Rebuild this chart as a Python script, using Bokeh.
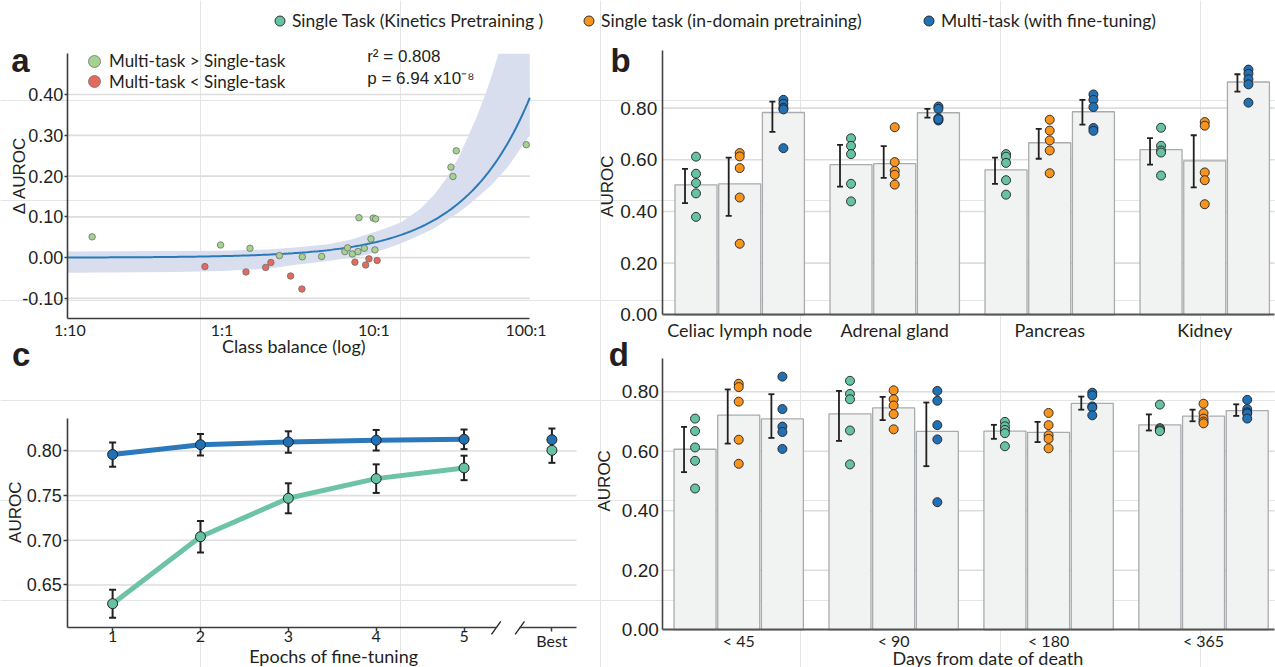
import numpy as np
from bokeh.plotting import figure
from bokeh.models import (Range1d, FixedTicker, PrintfTickFormatter, Label, Legend,
                          LegendItem, LinearAxis, LogAxis, LogScale)
from bokeh.embed import file_html
from bokeh.resources import INLINE

# ------------------------------------------------------------------ data
SERIES = ["Single Task (Kinetics Pretraining )",
          "Single task (in-domain pretraining)",
          "Multi-task (with fine-tuning)"]

# panel a : class balance vs delta AUROC
a_better_x = [0.14, 0.98, 1.53, 2.39, 3.38, 4.53, 6.44, 6.71, 7.21, 7.85, 7.97, 8.65,
              9.56, 9.9, 10.26, 10.15, 32.1, 33.1, 34.8, 100.5]
a_better_y = [0.051, 0.031, 0.023, 0.005, 0.002, 0.003, 0.015, 0.024, 0.009, 0.015,
              0.098, 0.023, 0.046, 0.097, 0.095, 0.019, 0.222, 0.199, 0.262, 0.277]
a_worse_x = [0.773, 1.44, 1.94, 2.10, 2.83, 3.36, 7.5, 8.82, 9.27, 10.5]
a_worse_y = [-0.022, -0.035, -0.024, -0.012, -0.045, -0.077, -0.011, -0.018, -0.003, -0.007]
FIT_SLOPE = 0.0037
FIT_INTERCEPT = 0.0
band_x = [0.096, 0.5, 1, 2, 3, 5, 7, 9, 12, 15, 20, 25, 30, 36, 42, 48, 54, 60, 66,
          75, 85, 95, 106]
band_lo = [-0.037, -0.035, -0.033, -0.027, -0.018, -0.008, 0.000, 0.007, 0.022, 0.035,
           0.055, 0.072, 0.092, 0.110, 0.130, 0.148, 0.165, 0.180, 0.197, 0.220,
           0.248, 0.275, 0.300]
band_hi = [0.015, 0.016, 0.017, 0.020, 0.025, 0.033, 0.044, 0.057, 0.072, 0.086,
           0.118, 0.155, 0.195, 0.245, 0.300, 0.350, 0.400, 0.450, 0.500, 0.560,
           0.630, 0.700, 0.780]
A_TICKS = {0.1: "1:10", 1: "1:1", 10: "10:1", 100: "100:1"}
A_YTICKS = [-0.1, 0, 0.1, 0.2, 0.3, 0.4]
A_LEGEND = ["Multi-task > Single-task", "Multi-task < Single-task"]

# panel b : organs
ORGANS = ["Celiac lymph node", "Adrenal gland", "Pancreas", "Kidney"]
b_kin_mean = [0.503, 0.581, 0.561, 0.639]
b_kin_lo = [0.432, 0.496, 0.507, 0.581]
b_kin_hi = [0.565, 0.658, 0.608, 0.684]
b_ind_mean = [0.507, 0.585, 0.666, 0.596]
b_ind_lo = [0.383, 0.530, 0.604, 0.493]
b_ind_hi = [0.608, 0.653, 0.720, 0.695]
b_mt_mean = [0.783, 0.782, 0.786, 0.901]
b_mt_lo = [0.708, 0.763, 0.736, 0.864]
b_mt_hi = [0.825, 0.797, 0.832, 0.931]
b_kin_runs = [[0.612, 0.546, 0.510, 0.470, 0.379], [0.683, 0.654, 0.622, 0.507, 0.439],
              [0.622, 0.612, 0.588, 0.521, 0.465], [0.724, 0.654, 0.636, 0.628, 0.539]]
b_ind_runs = [[0.626, 0.613, 0.568, 0.454, 0.275], [0.726, 0.591, 0.557, 0.542, 0.504],
              [0.755, 0.713, 0.675, 0.636, 0.548], [0.746, 0.732, 0.551, 0.521, 0.428]]
b_mt_runs = [[0.832, 0.817, 0.801, 0.795, 0.645], [0.806, 0.797, 0.761, 0.752, 0.757],
             [0.853, 0.832, 0.804, 0.723, 0.712], [0.949, 0.933, 0.912, 0.892, 0.821]]
BD_YTICKS = [0, 0.2, 0.4, 0.6, 0.8]

# panel c : epochs of fine-tuning
EPOCHS = ["1", "2", "3", "4", "5"]
c_mt_mean = [0.796, 0.807, 0.810, 0.812, 0.813]
c_mt_err = [0.0136, 0.012, 0.012, 0.0115, 0.011]
c_kin_mean = [0.629, 0.704, 0.747, 0.769, 0.781]
c_kin_err = [0.0157, 0.0177, 0.0168, 0.016, 0.0137]
BEST_LABEL = "Best"
c_best_mt, c_best_mt_err = 0.8126, 0.0125
c_best_kin, c_best_kin_err = 0.8007, 0.014
C_YTICKS = [0.65, 0.70, 0.75, 0.80]

# panel d : days from date of death
DAYS = ["< 45", "< 90", "< 180", "< 365"]
d_kin_mean = [0.607, 0.726, 0.668, 0.689]
d_kin_lo = [0.530, 0.635, 0.642, 0.670]
d_kin_hi = [0.682, 0.803, 0.689, 0.724]
d_ind_mean = [0.7215, 0.746, 0.664, 0.718]
d_ind_lo = [0.626, 0.705, 0.631, 0.701]
d_ind_hi = [0.808, 0.783, 0.699, 0.740]
d_mt_mean = [0.709, 0.667, 0.761, 0.737]
d_mt_lo = [0.645, 0.550, 0.740, 0.719]
d_mt_hi = [0.792, 0.764, 0.784, 0.758]
d_kin_runs = [[0.710, 0.668, 0.613, 0.568, 0.475], [0.837, 0.793, 0.775, 0.670, 0.556],
              [0.699, 0.684, 0.672, 0.661, 0.617], [0.757, 0.678, 0.674, 0.670, 0.668]]
d_ind_runs = [[0.827, 0.816, 0.767, 0.639, 0.558], [0.805, 0.775, 0.754, 0.725, 0.674],
              [0.729, 0.688, 0.654, 0.642, 0.610], [0.760, 0.728, 0.710, 0.700, 0.694]]
d_mt_runs = [[0.851, 0.742, 0.683, 0.665, 0.608], [0.803, 0.770, 0.688, 0.640, 0.429],
             [0.797, 0.788, 0.751, 0.747, 0.721], [0.773, 0.742, 0.731, 0.727, 0.710]]

# ------------------------------------------------------------------ style / layout
W, H = 1275, 667
KIN, IND, MT = "#66c2a5", "#f7941e", "#2171b5"
COLORS = [KIN, IND, MT]
INK = "#231f20"
SANS = "Liberation Sans"
HUM = "Lato"
GRID = "#dddddd"
BAR_FILL = "#f1f2f2"
BAR_EDGE = "#a9abae"
BAR_STEP = 0.2819
BAR_W = 0.271
ERR_SHIFT = 0.071

# panel plot areas: data extent and page-pixel extent
A_X, A_PX = (0.096, 106.0), (66.7, 529.3)
A_Y, A_PY = (-0.15, 0.5), (318.3, 53.3)
B_X, B_PX = (-0.5, 3.45), (661.7, 1274.0)
B_Y, B_PY = (0.0, 1.023), (314.3, 50.0)
C_X, C_PX = (0.49, 6.28), (67.3, 576.0)
C_Y, C_PY = (0.602, 0.836), (627.3, 418.3)
D_X, D_PX = (-0.49, 3.458), (662.3, 1274.0)
D_Y, D_PY = (0.0, 0.911), (629.3, 358.3)


def xrange_for(d, px, log=False):
    d0, d1 = (np.log10(d[0]), np.log10(d[1])) if log else d
    k = (d1 - d0) / (px[1] - px[0])
    s, e = d0 - px[0] * k, d1 + (W - px[1]) * k
    return Range1d(10 ** s, 10 ** e) if log else Range1d(s, e)


def yrange_for(d, py):
    b0, b1 = H - py[0], H - py[1]
    k = (d[1] - d[0]) / (b1 - b0)
    return Range1d(d[0] - b0 * k, d[1] + (H - b1) * k)


p = figure(width=W, height=H, x_range=Range1d(0, W), y_range=Range1d(H, 0),
           min_border=0, toolbar_location=None, output_backend="svg",
           x_axis_location=None, y_axis_location=None)
p.outline_line_color = None
p.extra_x_ranges = {"ax": xrange_for(A_X, A_PX, log=True), "bx": xrange_for(B_X, B_PX),
                    "cx": xrange_for(C_X, C_PX), "dx": xrange_for(D_X, D_PX)}
p.extra_y_ranges = {"ay": yrange_for(A_Y, A_PY), "by": yrange_for(B_Y, B_PY),
                    "cy": yrange_for(C_Y, C_PY), "dy": yrange_for(D_Y, D_PY)}
p.extra_x_scales = {"ax": LogScale()}


def add_axis(cls, side, xr, yr, loc, bounds, ticks, font, size, tick_out, standoff,
             overrides=None, fmt=None, color="#3c3c3c", width=1.6):
    ax = cls(x_range_name=xr, y_range_name=yr, fixed_location=loc, bounds=bounds,
             ticker=FixedTicker(ticks=ticks))
    if fmt:
        ax.formatter = PrintfTickFormatter(format=fmt)
    if overrides:
        ax.major_label_overrides = overrides
    ax.axis_line_color = color
    ax.axis_line_width = width
    ax.major_tick_line_color = color
    ax.major_tick_line_width = 1.5
    ax.major_tick_in = 0
    ax.major_tick_out = tick_out
    ax.minor_tick_line_color = None
    ax.major_label_standoff = standoff
    ax.major_label_text_font = font
    ax.major_label_text_font_size = f"{size}px"
    ax.major_label_text_color = INK
    p.add_layout(ax, side)
    return ax


def gridlines(xr, yr, xext, ticks):
    n = len(ticks)
    p.segment(x0=[xext[0]] * n, y0=ticks, x1=[xext[1]] * n, y1=ticks,
              line_color=GRID, line_width=1.6, x_range_name=xr, y_range_name=yr)


def lab(x, y, text, size, font=SANS, bold=False, align="left", angle=0.0):
    # (x, y) is the page position of the text's vertical middle
    p.add_layout(Label(x=x, y=y, text=text, text_font=font, text_font_size=f"{size}px",
                       text_font_style="bold" if bold else "normal",
                       text_align=align, text_baseline="middle", angle=angle,
                       text_color=INK))


def err_bars(xs, lo, hi, cap, xr, yr, width=1.8):
    p.segment(x0=xs, y0=lo, x1=xs, y1=hi, line_color=INK, line_width=width,
              x_range_name=xr, y_range_name=yr)
    p.scatter(x=list(xs) * 2, y=list(lo) + list(hi), marker="dash", size=cap,
              line_color=INK, line_width=width, x_range_name=xr, y_range_name=yr)


def bar_panel(xr, yr, xext, yext, groups, means, los, his, runs, xfont, xstand, ystand):
    gridlines(xr, yr, xext, BD_YTICKS[1:])
    idx = np.arange(len(groups))
    xs_all = [idx + (j - 1) * BAR_STEP for j in range(3)]
    for j in range(3):
        p.vbar(x=xs_all[j], top=means[j], bottom=0, width=BAR_W, fill_color=BAR_FILL,
               line_color=BAR_EDGE, line_width=1.3, x_range_name=xr, y_range_name=yr)
    for j in range(3):
        err_bars(xs_all[j] - ERR_SHIFT, los[j], his[j], 6, xr, yr)
    rends = []
    for j in range(3):
        xs = np.repeat(xs_all[j], [len(r) for r in runs[j]])
        ys = [v for r in runs[j] for v in r]
        rends.append(p.scatter(x=xs, y=ys, size=9, fill_color=COLORS[j], line_color=INK,
                               line_width=0.9, x_range_name=xr, y_range_name=yr))
    add_axis(LinearAxis, "below", xr, yr, yext[0], xext, list(idx), HUM, xfont, 0, xstand,
             overrides={int(i): g for i, g in zip(idx, groups)}, color="#555555", width=2.2)
    add_axis(LinearAxis, "left", xr, yr, xext[0], yext, BD_YTICKS, SANS, 19, 0, ystand,
             fmt="%.2f", color="#444444", width=1.6)
    return rends


def legend_item(label, rend, left, center_y, glyph, size_px):
    p.add_layout(Legend(items=[LegendItem(label=label, renderers=[rend])],
                        location=(left, H - center_y - glyph / 2), glyph_width=glyph,
                        glyph_height=glyph, label_standoff=-1, padding=0, margin=0,
                        spacing=0, border_line_color=None, background_fill_alpha=0,
                        label_text_font=HUM, label_text_font_size=f"{size_px}px",
                        label_text_color=INK))


# ------------------------------------------------------------------ panel a
gridlines("ax", "ay", A_X, A_YTICKS)
p.varea(x=band_x, y1=band_lo, y2=np.minimum(band_hi, A_Y[1]), fill_color="#d8deee",
        x_range_name="ax", y_range_name="ay")
fit_x = np.logspace(np.log10(A_X[0]), np.log10(A_X[1]), 200)
p.line(fit_x, FIT_SLOPE * fit_x + FIT_INTERCEPT, line_color="#2a7ab9", line_width=2,
       x_range_name="ax", y_range_name="ay")
r_up = p.scatter(a_better_x, a_better_y, size=6.5, fill_color="#a3d38e", line_color="#6f6f6f",
                 line_width=0.8, x_range_name="ax", y_range_name="ay")
r_dn = p.scatter(a_worse_x, a_worse_y, size=6.5, fill_color="#e36b5d", line_color="#6f6f6f",
                 line_width=0.8, x_range_name="ax", y_range_name="ay")
add_axis(LogAxis, "below", "ax", "ay", A_Y[0], A_X, list(A_TICKS.keys()), HUM, 16, 0, 1,
         overrides=A_TICKS)
add_axis(LinearAxis, "left", "ax", "ay", A_X[0], A_Y, A_YTICKS, SANS, 18, 3, 1, fmt="%.2f")
legend_item(A_LEGEND[0], r_up, 79, 60.7, 30, 17)
legend_item(A_LEGEND[1], r_dn, 79, 81.3, 30, 17)
lab(10.7, 59.5, "a", 33, bold=True)
lab(18.8, 175, "\u0394 AUROC", 17, align="center", angle=np.pi / 2)
lab(366.7, 56, "r\u00b2 = 0.808", 17)
lab(366.7, 77.5, "p = 6.94 x10\u207b\u2078", 17)
lab(293.3, 345.5, "Class balance (log)", 18, font=HUM, align="center")

# ------------------------------------------------------------------ panel b
b_rends = bar_panel("bx", "by", B_X, B_Y, ORGANS, [b_kin_mean, b_ind_mean, b_mt_mean],
                    [b_kin_lo, b_ind_lo, b_mt_lo], [b_kin_hi, b_ind_hi, b_mt_hi],
                    [b_kin_runs, b_ind_runs, b_mt_runs], 18, 4, 5)
lab(610, 60.3, "b", 33, bold=True)
lab(606.7, 185.7, "AUROC", 17, align="center", angle=np.pi / 2)

# ------------------------------------------------------------------ panel c
gridlines("cx", "cy", C_X, C_YTICKS)
ex = list(range(1, len(EPOCHS) + 1))
best_x = len(EPOCHS) + 1
p.line(ex, c_kin_mean, line_color="#6cc4a4", line_width=5, x_range_name="cx", y_range_name="cy")
p.line(ex, c_mt_mean, line_color="#2b78bb", line_width=5, x_range_name="cx", y_range_name="cy")
kin_all = c_kin_mean + [c_best_kin]
kin_err = c_kin_err + [c_best_kin_err]
mt_all = c_mt_mean + [c_best_mt]
mt_err = c_mt_err + [c_best_mt_err]
err_bars(ex + [best_x], [m - e for m, e in zip(kin_all, kin_err)],
         [m + e for m, e in zip(kin_all, kin_err)], 7, "cx", "cy", 2)
err_bars(ex + [best_x], [m - e for m, e in zip(mt_all, mt_err)],
         [m + e for m, e in zip(mt_all, mt_err)], 7, "cx", "cy", 2)
p.scatter(ex + [best_x], mt_all, size=10, fill_color=MT, line_color=INK, line_width=1,
          x_range_name="cx", y_range_name="cy")
p.scatter(ex + [best_x], kin_all, size=10, fill_color=KIN, line_color=INK, line_width=1,
          x_range_name="cx", y_range_name="cy")
brk = (len(EPOCHS) + best_x) / 2
BREAK_HALF = 0.135
add_axis(LinearAxis, "below", "cx", "cy", C_Y[0], (C_X[0], brk - BREAK_HALF), ex, HUM, 16, 4, -1)
add_axis(LinearAxis, "below", "cx", "cy", C_Y[0], (brk + BREAK_HALF, C_X[1]), [best_x], HUM, 16,
         4, -1, overrides={int(best_x): BEST_LABEL})
add_axis(LinearAxis, "left", "cx", "cy", C_X[0], C_Y, C_YTICKS, SANS, 18, 4, 2, fmt="%.2f")
sl_dx, sl_dy = 0.053, 0.0073
for bx in (brk - BREAK_HALF, brk + BREAK_HALF):
    p.segment(x0=[bx - sl_dx], y0=[C_Y[0] - sl_dy], x1=[bx + sl_dx], y1=[C_Y[0] + sl_dy],
              line_color=INK, line_width=1.3, x_range_name="cx", y_range_name="cy")
lab(11.5, 353.6, "c", 33, bold=True)
lab(15.3, 511.7, "AUROC", 17, align="center", angle=np.pi / 2)
lab(333.3, 655, "Epochs of fine-tuning", 18, font=HUM, align="center")

# ------------------------------------------------------------------ panel d
bar_panel("dx", "dy", D_X, D_Y, DAYS, [d_kin_mean, d_ind_mean, d_mt_mean],
          [d_kin_lo, d_ind_lo, d_mt_lo], [d_kin_hi, d_ind_hi, d_mt_hi],
          [d_kin_runs, d_ind_runs, d_mt_runs], 16, 1, 4)
lab(608.3, 353.6, "d", 33, bold=True)
lab(603.7, 480.3, "AUROC", 17, align="center", angle=np.pi / 2)
lab(987.5, 657, "Days from date of death", 18, font=HUM, align="center")

# ------------------------------------------------------------------ top legend
for j, cx in enumerate([279.4, 588.6, 928.4]):
    legend_item(SERIES[j], b_rends[j], cx - 12.5, 20.7, 25, 17.5)

open("out.html", "w").write(file_html(p, INLINE))
